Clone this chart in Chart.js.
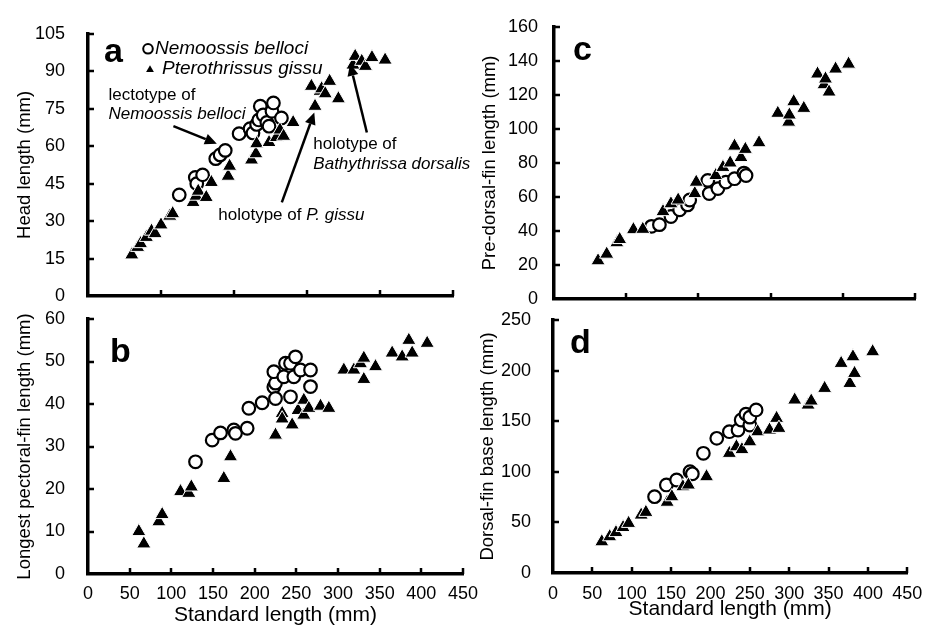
<!DOCTYPE html>
<html lang="en">
<head>
<meta charset="UTF-8">
<title>Nemoossis belloci vs Pterothrissus gissu</title>
<script src="https://cdn.jsdelivr.net/npm/chart.js"></script>
<style>
  html, body { margin: 0; padding: 0; background: #fff; overflow: hidden; }
  #wrap { position: relative; width: 933px; height: 627px; overflow: hidden; }
  #wrap canvas { position: absolute; left: 0; top: 0; }
</style>
</head>
<body>
<div id="wrap">
  <canvas id="panelA" width="933" height="640"></canvas>
  <canvas id="panelB" width="933" height="640"></canvas>
  <canvas id="panelC" width="933" height="640"></canvas>
  <canvas id="panelD" width="933" height="640"></canvas>
</div>

<script>
  const seriesNames = ['Nemoossis belloci', 'Pterothrissus gissu'];

  // a: head length
  const headNemo = [
    [125,40.5],[147,47.5],[149,45],[157,48.5],[175,55],[181,56.5],[188,58.3],
    [207,65],[222,67],[226,65.3],[231,68.7],[234,70.5],[236,76],[240,72.5],
    [245,69.5],[248,68],[252,74],[254,77.3],[265,71.3]
  ];
  const headPtero = [
    [60,16.5],[68,19.5],[72,21],[80,23.5],[87,26],[92,25],[100,28.5],[112,32],[116,33],
    [144,37.5],[148,40],[151,42],[162,39.5],[169,45.5],[192,48],[194,52],[224,54.5],
    [230,57],[231,61],[248,61.5],[258,63.5],[263,66.5],[268,64],[281,69.5],[306,84],
    [311,76],[318,82],[320,83],[325,81],[331,86],[343,79],[363,92.5],[366,96],[375,94],
    [380,92],[389,95.5],[407,94.5]
  ];

  // b: longest pectoral-fin length
  const pectNemo = [
    [129,26.4],[149,31.5],[159,33.2],[175,33.9],[177,33.1],[191,34.3],[193,39],
    [209,40.3],[223,44],[225,41.3],[225,44.9],[223,47.6],[235,46.4],[237,49.6],
    [243,41.7],[243,49.6],[247,46.4],[249,51.1],[255,48],[267,48],[267,44.1]
  ];
  const pectPtero = [
    [61,10],[67,7.1],[85,12.3],[89,14],[111,19.4],[121,19],[124,20.5],[163,22.5],
    [171,27.6],[225,32.7],[233,37.8],[233,36.5],[245,35.1],[252,38.5],[259,40.9],
    [259,37.4],[265,39],[279,39.5],[289,39],[307,48],[319,48],[327,49.5],[331,50.8],
    [331,45.8],[345,48.8],[365,52],[377,51.1],[385,55],[389,52],[407,54.3]
  ];

  // c: pre-dorsal-fin length
  const predorsalNemo = [
    [135,42.7],[146,43.7],[162,48.5],[174,52.4],[185,55.3],[188,58.2],[213,69.7],
    [215,62],[227,64.9],[238,68.7],[250,70.7],[263,74],[266,72.6]
  ];
  const predorsalPtero = [
    [61,22.5],[73,26.4],[87,33.1],[91,35],[110,40.8],[123,41],[151,51.4],[162,56],
    [172,58.2],[195,62],[197,68.7],[224,72.6],[234,77.4],[244,80],[250,89.9],[259,83.2],
    [265,88],[284,91.9],[310,109.2],[325,104],[326,108.2],[332,116],[346,112.1],
    [365,132.3],[374,126],[376,129.4],[381,121.7],[390,135.2],[408,138.1]
  ];

  // d: dorsal-fin base length
  const dorsalBaseNemo = [
    [129,75.4],[144,87],[157,91.9],[174,100.1],[177,98],[191,118.3],[208,133.1],
    [224,139.6],[235,141.3],[239,151.2],[245,157],[250,146.2],[250,154],[258,161.1]
  ];
  const dorsalBasePtero = [
    [62,30.9],[72,35.9],[80,40],[89,45],[96,49.1],[112,57.3],[118,60],[145,70],
    [151,75.4],[165,85.3],[172,87],[195,95.2],[224,118.3],[233,124.8],[240,122],
    [250,129.7],[260,139.6],[275,141.3],[284,152.9],[287,143],[307,171],[324,166],
    [328,170],[345,182.5],[366,207.2],[377,187.4],[381,213.7],[383,197.3],[406,218.7]
  ];

  // annotations in panel a, anchored in data units: [x, y, plain text, italic text]
  const noteTexts = [
    [28, 80.4, 'lectotype of', ''],
    [28, 72.6, '', 'Nemoossis belloci'],
    [178.5, 32.3, 'holotype of ', 'P. gissu'],
    [308.7, 60.9, 'holotype of', ''],
    [308.7, 52.8, '', 'Bathythrissa dorsalis']
  ];
  // arrows: [fromX, fromY, toX, toY]
  const noteArrows = [
    [117, 68, 176.5, 61],
    [265.5, 37.5, 310, 73.5],
    [382, 65.5, 359, 93]
  ];

  const FONT = '"Liberation Sans", Arial, Helvetica, sans-serif';
  const CANVAS_H = 640;
  Chart.defaults.font.family = FONT;
  Chart.defaults.color = '#000';

  const panels = [
    { id: 'panelA', letter: 'a', nemo: headNemo, ptero: headPtero,
      xMax: 500, xStep: 100, yMax: 105, yStep: 15,
      yTitle: 'Head length (mm)', xTitle: null,
      box: { l: 88, t: 27, r: 453, b: 296 }, yAxisLeft: 0, yLabelPad: 23, yTitleX: 25,
      letterAt: [16, 28], legend: true, notes: true },
    { id: 'panelB', letter: 'b', nemo: pectNemo, ptero: pectPtero,
      xMax: 450, xStep: 50, yMax: 60, yStep: 10,
      yTitle: 'Longest pectoral-fin length (mm)', xTitle: 'Standard length (mm)',
      box: { l: 88, t: 319, r: 463, b: 574 }, yAxisLeft: 0, yLabelPad: 23, yTitleX: 25,
      xLabelY: 594.5, xTitleY: 615, letterAt: [22, 43] },
    { id: 'panelC', letter: 'c', nemo: predorsalNemo, ptero: predorsalPtero,
      xMax: 500, xStep: 100, yMax: 160, yStep: 20,
      yTitle: 'Pre-dorsal-fin length (mm)', xTitle: null,
      box: { l: 554, t: 22, r: 915, b: 299 }, yAxisLeft: 466, yLabelPad: 16, yTitleX: 490,
      letterAt: [19, 33] },
    { id: 'panelD', letter: 'd', nemo: dorsalBaseNemo, ptero: dorsalBasePtero,
      xMax: 450, xStep: 50, yMax: 250, yStep: 50,
      yTitle: 'Dorsal-fin base length (mm)', xTitle: 'Standard length (mm)',
      box: { l: 553, t: 320, r: 908, b: 573 }, yAxisLeft: 465, yLabelPad: 22, yTitleX: 488,
      xLabelY: 594.5, xTitleY: 609, letterAt: [17, 33] }
  ];

  function toXY(arr) {
    return arr.map(([x, y]) => ({ x, y }));
  }

  function drawArrow(ctx, x1, y1, x2, y2) {
    const ang = Math.atan2(y2 - y1, x2 - x1);
    const head = 12, half = 5.5;
    const bx = x2 - Math.cos(ang) * head, by = y2 - Math.sin(ang) * head;
    ctx.beginPath();
    ctx.moveTo(x1, y1);
    ctx.lineTo(bx, by);
    ctx.lineWidth = 2.5;
    ctx.strokeStyle = '#000';
    ctx.stroke();
    ctx.beginPath();
    ctx.moveTo(x2, y2);
    ctx.lineTo(bx + Math.sin(ang) * half, by - Math.cos(ang) * half);
    ctx.lineTo(bx - Math.sin(ang) * half, by + Math.cos(ang) * half);
    ctx.closePath();
    ctx.fillStyle = '#000';
    ctx.fill();
  }

  function decor(p) {
    return {
      id: 'decor_' + p.id,
      afterDraw(chart) {
        const ctx = chart.ctx;
        const area = chart.chartArea;
        const xs = chart.scales.x, ys = chart.scales.y;
        ctx.save();

        // inward tick marks
        ctx.strokeStyle = '#000';
        ctx.lineWidth = 2.5;
        ctx.beginPath();
        for (let v = p.xStep; v <= p.xMax; v += p.xStep) {
          const px = Math.round(xs.getPixelForValue(v));
          ctx.moveTo(px, area.bottom);
          ctx.lineTo(px, area.bottom - 6);
        }
        for (let v = p.yStep; v <= p.yMax; v += p.yStep) {
          const py = Math.round(ys.getPixelForValue(v));
          ctx.moveTo(area.left, py);
          ctx.lineTo(area.left + 6, py);
        }
        ctx.stroke();

        // panel letter
        ctx.fillStyle = '#000';
        ctx.font = 'bold 34px ' + FONT;
        ctx.textBaseline = 'alphabetic';
        ctx.textAlign = 'left';
        ctx.fillText(p.letter, area.left + p.letterAt[0], area.top + p.letterAt[1]);

        if (p.legend) {
          const lx = area.left, ly = area.top;
          ctx.beginPath();
          ctx.arc(lx + 60, ly + 15, 4.8, 0, Math.PI * 2);
          ctx.fillStyle = '#fff';
          ctx.fill();
          ctx.lineWidth = 2;
          ctx.strokeStyle = '#000';
          ctx.stroke();
          const tx = lx + 62, ty = ly + 36, r = 4.5;
          ctx.beginPath();
          ctx.moveTo(tx, ty - r);
          ctx.lineTo(tx + r * 0.866, ty + r / 2);
          ctx.lineTo(tx - r * 0.866, ty + r / 2);
          ctx.closePath();
          ctx.fillStyle = '#000';
          ctx.fill();
          ctx.font = 'italic 19px ' + FONT;
          ctx.textBaseline = 'middle';
          ctx.fillText(seriesNames[0], lx + 67, ly + 15);
          ctx.fillText(seriesNames[1], lx + 74, ly + 35);
        }

        if (p.notes) {
          ctx.textBaseline = 'middle';
          ctx.fillStyle = '#000';
          noteTexts.forEach(([x, y, plain, ital]) => {
            let px = xs.getPixelForValue(x);
            const py = ys.getPixelForValue(y);
            if (plain) {
              ctx.font = '17px ' + FONT;
              ctx.fillText(plain, px, py);
              px += ctx.measureText(plain).width;
            }
            if (ital) {
              ctx.font = 'italic 17px ' + FONT;
              ctx.fillText(ital, px, py);
            }
          });
          noteArrows.forEach(([x1, y1, x2, y2]) => {
            drawArrow(ctx,
              xs.getPixelForValue(x1), ys.getPixelForValue(y1),
              xs.getPixelForValue(x2), ys.getPixelForValue(y2));
          });
        }
        ctx.restore();
      }
    };
  }

  function buildChart(p) {
    const yWidth = p.box.l - p.yAxisLeft;
    const xHeight = p.xTitle ? CANVAS_H - p.box.b : 4;
    const padBottom = CANVAS_H - p.box.b - xHeight;
    const tickLH = 18 * 1.2, yTitleLH = 18.5 * 1.2, xTitleLH = 21 * 1.2;

    new Chart(document.getElementById(p.id), {
      type: 'scatter',
      data: {
        datasets: [
          {
            label: seriesNames[0], data: toXY(p.nemo), order: 1,
            pointStyle: 'circle', pointRadius: 6.3,
            pointBackgroundColor: '#fff', pointBorderColor: '#000', pointBorderWidth: 2.2
          },
          {
            label: seriesNames[1], data: toXY(p.ptero), order: 0,
            pointStyle: 'triangle', pointRadius: 8.2,
            pointBackgroundColor: '#000', pointBorderColor: '#fff', pointBorderWidth: 1
          }
        ]
      },
      options: {
        responsive: false,
        animation: false,
        events: [],
        layout: {
          padding: { left: p.yAxisLeft, top: p.box.t, right: 933 - p.box.r, bottom: padBottom }
        },
        plugins: { legend: { display: false }, tooltip: { enabled: false } },
        scales: {
          x: {
            type: 'linear', min: 0, max: p.xMax,
            ticks: {
              stepSize: p.xStep, display: !!p.xTitle, color: '#000',
              font: { size: 18 },
              padding: p.xTitle ? p.xLabelY - p.box.b - tickLH / 2 : 0,
              maxRotation: 0, autoSkip: false
            },
            grid: { display: false, drawTicks: false },
            border: { display: true, color: '#000', width: 3.5 },
            title: {
              display: !!p.xTitle, text: p.xTitle || '', color: '#000',
              font: { size: 21 },
              padding: { top: 0, bottom: p.xTitle ? CANVAS_H - p.xTitleY - xTitleLH / 2 : 0 }
            },
            afterFit: s => { s.height = xHeight; }
          },
          y: {
            type: 'linear', min: 0, max: p.yMax,
            ticks: {
              stepSize: p.yStep, color: '#000', font: { size: 18 },
              padding: p.yLabelPad, autoSkip: false
            },
            grid: { display: false, drawTicks: false },
            border: { display: true, color: '#000', width: 3.5 },
            title: {
              display: true, text: p.yTitle, color: '#000',
              font: { size: 18.5 },
              padding: { top: p.yTitleX - p.yAxisLeft - yTitleLH / 2, bottom: 0 }
            },
            afterFit: s => { s.width = yWidth; }
          }
        }
      },
      plugins: [decor(p)]
    });
  }

  panels.forEach(buildChart);
</script>
</body>
</html>
